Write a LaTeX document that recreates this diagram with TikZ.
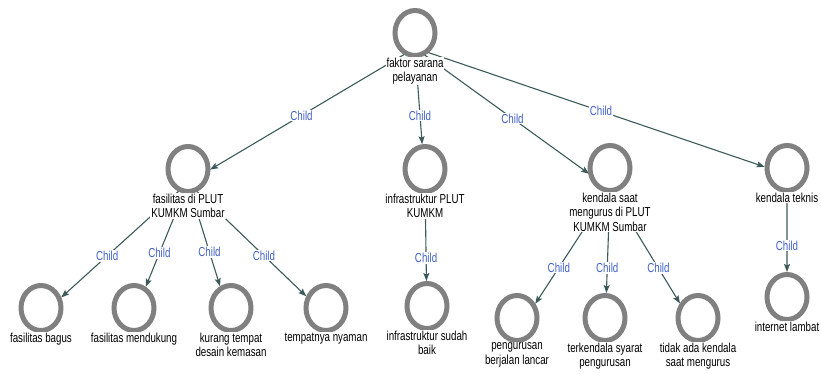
\documentclass[tikz,border=0pt]{standalone}
\usepackage{fontspec}
\setmainfont[FakeStretch=0.75]{Liberation Sans}
\usetikzlibrary{arrows.meta,calc,intersections,shapes.geometric}
\pgfdeclarelayer{background}
\pgfsetlayers{background,main}
\definecolor{ringgray}{RGB}{128,128,128}
\definecolor{edgecol}{RGB}{60,90,90}
\definecolor{childblue}{RGB}{64,96,200}
\tikzset{
  ring/.style={ellipse, draw=ringgray, line width=5pt, fill=white,
    minimum width=40pt, minimum height=45pt, inner sep=0pt, outer sep=0pt},
  lbl/.style={anchor=north, align=center, fill=white, inner sep=1pt,
    font=\fontsize{13}{14.5}\selectfont},
  childlbl/.style={text=childblue, fill=white, inner sep=1pt,
    font=\fontsize{13}{14.5}\selectfont},
  edge/.style={draw=edgecol, line width=1.1pt, shorten >=2.5pt,
    -{Stealth[length=8pt,width=6pt,inset=1.5pt]}}
}
\newcommand\mynode[4]{% name, x, y, text
  \node[ring, name path=r#1] (#1) at (#2,#3) {};
  \node[lbl] (#1-l) at ([yshift=-1pt]#1.south) {#4};
  \coordinate (#1-c) at ($(#1.north)!0.5!(#1-l.south)$);
}
\newcommand\childedge[3][0.5]{% pos, parent, child
  \path[name path=p#3] (#2-c) -- node[pos=#1, childlbl] (#3-ch) {Child} (#3-c);
  \begin{pgfonlayer}{background}
    \draw[edge, name intersections={of=p#3 and r#3, by=#3-in}] (#2-c) -- (#3-in);
  \end{pgfonlayer}
}
\begin{document}
\begin{tikzpicture}[x=1pt,y=-1pt]
\useasboundingbox (0,0) rectangle (821,373);
\mynode{root}{415}{33}{faktor sarana\\pelayanan}
\mynode{fas}{188}{169}{fasilitas di PLUT\\KUMKM Sumbar}
\mynode{infra}{425}{169}{infrastruktur PLUT\\KUMKM}
\mynode{kend}{610}{168}{kendala saat\\mengurus di PLUT\\KUMKM Sumbar}
\mynode{tekn}{787}{168}{kendala teknis}
\mynode{bagus}{41}{308}{fasilitas bagus}
\mynode{mend}{134}{308}{fasilitas mendukung}
\mynode{kur}{231}{308}{kurang tempat\\desain kemasan}
\mynode{temp}{326}{308}{tempatnya nyaman}
\mynode{sudah}{427}{306}{infrastruktur sudah\\baik}
\mynode{peng}{517}{318}{pengurusan\\berjalan lancar}
\mynode{terk}{605}{318}{terkendala syarat\\pengurusan}
\mynode{tidak}{698}{318}{tidak ada kendala\\saat mengurus}
\mynode{inet}{787}{297}{internet lambat}
\childedge{root}{fas}
\childedge{root}{infra}
\childedge{root}{kend}
\childedge{root}{tekn}
\childedge[0.55]{fas}{bagus}
\childedge[0.53]{fas}{mend}
\childedge[0.5]{fas}{kur}
\childedge[0.55]{fas}{temp}
\childedge[0.55]{infra}{sudah}
\childedge[0.55]{kend}{peng}
\childedge[0.55]{kend}{terk}
\childedge[0.55]{kend}{tidak}
\childedge[0.55]{tekn}{inet}
\end{tikzpicture}
\end{document}
